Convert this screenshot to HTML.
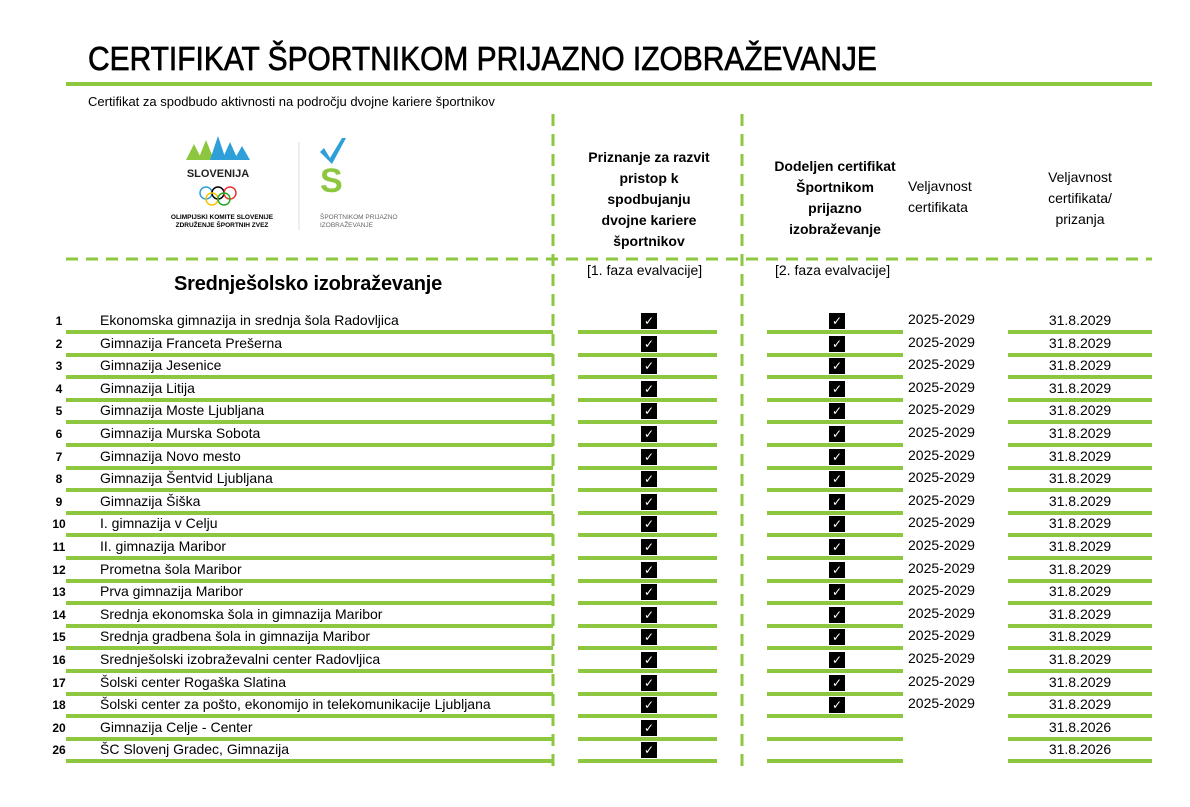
<!DOCTYPE html>
<html><head><meta charset="utf-8">
<style>
body{margin:0;width:1190px;height:807px;background:#fff;position:relative;overflow:hidden;font-family:"Liberation Sans",sans-serif;color:#000}
.a{position:absolute;white-space:nowrap}
.g{position:absolute;background:#8dc63f;height:4px}
.c{position:absolute;width:16px;height:16px;background:#000;color:#fff;font-size:12px;line-height:16px;text-align:center}
.t{font-size:14px;transform-origin:left center}
.h{font-size:14px;text-align:center;line-height:21px}
</style></head><body>
<div class="a" style="left:88px;top:40px;font-size:33px;-webkit-text-stroke:0.7px #000;transform:scaleX(0.907);transform-origin:left top">CERTIFIKAT ŠPORTNIKOM PRIJAZNO IZOBRAŽEVANJE</div>
<div class="g" style="left:66px;top:82px;width:1086px;height:4px"></div>
<div class="a" style="left:88px;top:94px;font-size:13px">Certifikat za spodbudo aktivnosti na področju dvojne kariere športnikov</div>

<svg class="a" style="left:170px;top:130px" width="260" height="110">
<polygon points="16,30 24,14 32,30" fill="#8dc63f"/><polygon points="28,30 36,10 44,30" fill="#8dc63f"/><polygon points="40,30 48,6 56,30" fill="#2e9fd8"/><polygon points="52,30 60,12 68,30" fill="#2e9fd8"/><polygon points="64,30 72,16 80,30" fill="#2e9fd8"/>
<text x="48" y="47" font-size="11" font-weight="bold" text-anchor="middle" fill="#222" font-family="Liberation Sans">SLOVENIJA</text>
<g fill="none" stroke-width="1.5"><circle cx="36" cy="63" r="6" stroke="#2e9fd8"/><circle cx="48" cy="63" r="6" stroke="#000"/><circle cx="60" cy="63" r="6" stroke="#e33"/><circle cx="42" cy="69" r="6" stroke="#f5c400"/><circle cx="54" cy="69" r="6" stroke="#2a2"/></g>
<text x="52" y="89" font-size="6.5" font-weight="bold" text-anchor="middle" font-family="Liberation Sans">OLIMPIJSKI KOMITE SLOVENIJE</text>
<text x="52" y="97" font-size="6.5" font-weight="bold" text-anchor="middle" font-family="Liberation Sans">ZDRUŽENJE ŠPORTNIH ZVEZ</text>
<line x1="129" y1="12" x2="129" y2="100" stroke="#ddd"/>
<polygon points="154,18 160,28 172,8 176,8 162,34 150,22" fill="#2e9fd8"/>
<text x="150" y="62" font-size="34" font-weight="bold" fill="#8dc63f" font-family="Liberation Sans">S</text>
<text x="150" y="89" font-size="6.5" fill="#666" font-family="Liberation Sans">ŠPORTNIKOM PRIJAZNO</text>
<text x="150" y="97" font-size="6.5" fill="#666" font-family="Liberation Sans">IZOBRAŽEVANJE</text>
</svg>

<svg class="a" style="left:0;top:0" width="1190" height="807">
<g stroke="#8dc63f" stroke-width="3" stroke-dasharray="12,8">
<line x1="553" y1="114" x2="553" y2="770"/><line x1="742" y1="114" x2="742" y2="770"/>
<line x1="66" y1="259" x2="1152" y2="259"/></g></svg>

<div class="a h" style="left:569px;top:147px;width:160px;font-weight:bold">Priznanje za razvit<br>pristop k<br>spodbujanju<br>dvojne kariere<br>športnikov</div>
<div class="a h" style="left:760px;top:156px;width:150px;font-weight:bold">Dodeljen certifikat<br>Športnikom<br>prijazno<br>izobraževanje</div>
<div class="a" style="left:908px;top:176px;font-size:14px;line-height:21px">Veljavnost<br>certifikata</div>
<div class="a h" style="left:1010px;top:167px;width:140px">Veljavnost<br>certifikata/<br>prizanja</div>
<div class="a" style="left:587px;top:262px;font-size:14px">[1. faza evalvacije]</div>
<div class="a" style="left:775px;top:262px;font-size:14px">[2. faza evalvacije]</div>
<div class="a" style="left:174px;top:273px;font-size:20px;font-weight:bold;letter-spacing:-0.2px">Srednješolsko izobraževanje</div>
<div id="rows"></div>
<script>
var n=["Ekonomska gimnazija in srednja šola Radovljica","Gimnazija Franceta Prešerna","Gimnazija Jesenice","Gimnazija Litija","Gimnazija Moste Ljubljana","Gimnazija Murska Sobota","Gimnazija Novo mesto","Gimnazija Šentvid Ljubljana","Gimnazija Šiška","I. gimnazija v Celju","II. gimnazija Maribor","Prometna šola Maribor","Prva gimnazija Maribor","Srednja ekonomska šola in gimnazija Maribor","Srednja gradbena šola in gimnazija Maribor","Srednješolski izobraževalni center Radovljica","Šolski center Rogaška Slatina","Šolski center za pošto, ekonomijo in telekomunikacije Ljubljana","Gimnazija Celje - Center","ŠC Slovenj Gradec, Gimnazija"];
var num=[1,2,3,4,5,6,7,8,9,10,11,12,13,14,15,16,17,18,20,26];
var h="";
for(var i=0;i<20;i++){
 var y=312+i*22.6, ly=y+18;
 h+='<div class="a" style="left:40px;width:38px;text-align:center;top:'+(y+2)+'px;font-size:12px;font-weight:bold">'+num[i]+'</div>';
 h+='<div class="a t" style="left:100px;top:'+y+'px">'+n[i]+'</div>';
 h+='<div class="g" style="left:66px;width:487px;top:'+ly+'px"></div>';
 h+='<div class="g" style="left:578px;width:139px;top:'+ly+'px"></div>';
 h+='<div class="g" style="left:767px;width:136px;top:'+ly+'px"></div>';
 h+='<div class="g" style="left:1008px;width:144px;top:'+ly+'px"></div>';
 h+='<div class="c" style="left:641px;top:'+(y+1)+'px">✓</div>';
 var d="31.8.2026";
 if(i<18){h+='<div class="c" style="left:829px;top:'+(y+1)+'px">✓</div>';
  h+='<div class="a" style="left:908px;top:'+(y-1)+'px;font-size:14px">2025-2029</div>';d="31.8.2029";}
 h+='<div class="a" style="left:1008px;width:144px;text-align:center;top:'+y+'px;font-size:14px">'+d+'</div>';
}
document.getElementById("rows").innerHTML=h;
</script>
</body></html>
